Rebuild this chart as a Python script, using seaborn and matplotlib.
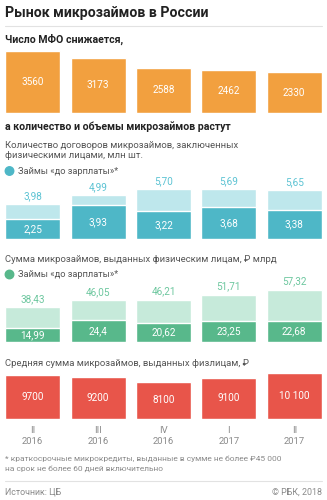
import matplotlib
matplotlib.use("Agg")
import matplotlib.pyplot as plt
import seaborn as sns

sns.set_theme(style="white")
plt.rcParams["font.family"] = ["Roboto", "DejaVu Sans"]

# ---- data ----
periods = ["II\n2016", "III\n2016", "IV\n2016", "I\n2017", "II\n2017"]
mfo_count = [3560, 3173, 2588, 2462, 2330]
loans_total = ["3,98", "4,99", "5,70", "5,69", "5,65"]
loans_payday = ["2,25", "3,93", "3,22", "3,68", "3,38"]
sum_total = ["38,43", "46,05", "46,21", "51,71", "57,32"]
sum_payday = ["14,99", "24,4", "20,62", "23,25", "22,68"]
avg_loan = [9700, 9200, 8100, 9100, 10100]


def num(s):
    return float(s.replace(",", "."))


def thousands(v):
    return f"{v:,}".replace(",", " ") if v >= 10000 else str(v)


W, H = 327, 500
fig = plt.figure(figsize=(W / 100, H / 100), dpi=100)
fig.patch.set_facecolor("white")

DARK = "#222222"
GRAY = "#555555"
LIGHTGRAY = "#8a8a8a"
ORANGE = "#F2A03F"
TEAL, TEAL_L, TEAL_T = "#4EB7C7", "#BEE7EC", "#5CC3D3"
GREEN, GREEN_L, GREEN_T = "#58B88B", "#C6EADA", "#6DC79F"
RED = "#E8554A"
BAR_W = 0.84


def fx(x):
    return x / W


def fy(y):
    return 1 - y / H


def txt(x, y, s, size, color=DARK, weight="normal", ha="left"):
    fig.text(fx(x), fy(y), s, fontsize=size, color=color, weight=weight,
             ha=ha, va="center")


def hline(y):
    fig.add_artist(plt.Line2D([fx(5), fx(322)], [fy(y), fy(y)],
                              color="#e2e2e2", lw=0.8))


def panel(bottom, top, ymax):
    ax = fig.add_axes([0, fy(bottom), 1, (bottom - top) / H])
    ax.set_xlim(-0.5, 4.5)
    ax.set_ylim(0, ymax)
    ax.axis("off")
    return ax


def legend_dot(y, color):
    fig.add_artist(matplotlib.patches.Ellipse((fx(9.5), fy(y)), 8.5 / W, 8.5 / H,
                                              color=color, transform=fig.transFigure))
    txt(18, y, "Займы «до зарплаты»*", 6.7, GRAY)


# ---- header ----
txt(5, 13, "Рынок микрозаймов в России", 10.2, DARK, "bold")
hline(26)
txt(5, 39.5, "Число МФО снижается,", 7.6, DARK, "bold")

# ---- panel 1: number of MFOs ----
ax1 = panel(113, 45, 68 * 57.2)
sns.barplot(x=periods, y=mfo_count, color=ORANGE, saturation=1,
            width=BAR_W, ax=ax1)
for i, v in enumerate(mfo_count):
    ax1.text(i, v / 2, str(v), color="white", fontsize=7.2,
             ha="center", va="center")

# ---- panel 2: number of loans ----
txt(5, 127, "а количество и объемы микрозаймов растут", 7.6, DARK, "bold")
txt(5, 145, "Количество договоров микрозаймов, заключенных", 6.8, GRAY)
txt(5, 156, "физическими лицами, млн шт.", 6.8, GRAY)
legend_dot(171, TEAL)

lt = [num(s) for s in loans_total]
lp = [num(s) for s in loans_payday]
ax2 = panel(239, 177, 62 * 0.1147)
sns.barplot(x=periods, y=lt, color=TEAL_L, saturation=1, width=BAR_W, ax=ax2)
sns.barplot(x=periods, y=lp, color=TEAL, saturation=1, width=BAR_W, ax=ax2)
for i in range(5):
    ax2.annotate(loans_total[i], (i, lt[i]), xytext=(0, 8), textcoords="offset pixels",
                 color=TEAL_T, fontsize=7.2, ha="center", va="center")
    ax2.text(i, lp[i] / 2, loans_payday[i], color="white", fontsize=7.2,
             ha="center", va="center")

# ---- panel 3: loan volume ----
txt(5, 260, "Сумма микрозаймов, выданных физическим лицам, ₽ млрд", 6.8, GRAY)
legend_dot(274.5, GREEN)

st = [num(s) for s in sum_total]
sp = [num(s) for s in sum_payday]
ax3 = panel(342, 280, 62 * 1.092)
sns.barplot(x=periods, y=st, color=GREEN_L, saturation=1, width=BAR_W, ax=ax3)
sns.barplot(x=periods, y=sp, color=GREEN, saturation=1, width=BAR_W, ax=ax3)
for i in range(5):
    ax3.annotate(sum_total[i], (i, st[i]), xytext=(0, 8), textcoords="offset pixels",
                 color=GREEN_T, fontsize=7.2, ha="center", va="center")
    ax3.text(i, sp[i] / 2, sum_payday[i], color="white", fontsize=7.2,
             ha="center", va="center")

# ---- panel 4: average loan ----
txt(5, 364, "Средняя сумма микрозаймов, выданных физлицам, ₽", 6.8, GRAY)
ax4 = panel(418.7, 370, 48.7 * 221)
sns.barplot(x=periods, y=avg_loan, color=RED, saturation=1, width=BAR_W, ax=ax4)
for i, v in enumerate(avg_loan):
    ax4.text(i, v / 2, thousands(v), color="white", fontsize=7.2,
             ha="center", va="center")
ax4.axis("on")
for s in ax4.spines.values():
    s.set_visible(False)
ax4.set_yticks([])
ax4.set_xlabel("")
ax4.tick_params(axis="x", length=0, pad=5, labelsize=6.8, labelcolor=LIGHTGRAY)
for lbl in ax4.get_xticklabels():
    lbl.set_linespacing(1.3)

# ---- footer ----
txt(5, 458.5, "* краткосрочные микрокредиты, выданные в сумме не более ₽45 000", 6.0, LIGHTGRAY)
txt(5, 469, "на срок не более 60 дней включительно", 6.0, LIGHTGRAY)
hline(481)
txt(5, 492.5, "Источник: ЦБ", 6.4, LIGHTGRAY)
txt(322, 492.5, "© РБК, 2018", 6.4, LIGHTGRAY, ha="right")

fig.savefig("out.png", dpi=100, facecolor="white")
